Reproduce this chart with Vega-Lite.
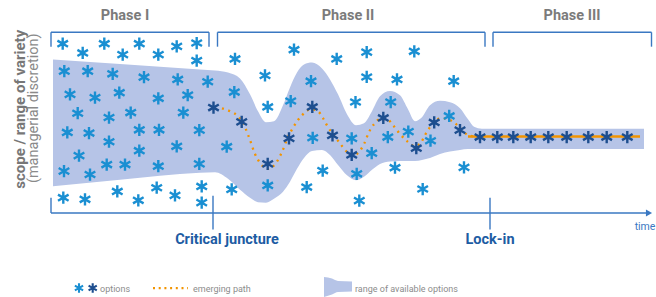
{
  "$schema": "https://vega.github.io/schema/vega-lite/v6.json",
  "width": 656,
  "height": 297,
  "autosize": {"type": "fit", "contains": "padding"},
  "padding": 0,
  "background": "white",
  "config": {"view": {"stroke": null}},
  "datasets": {
    "band": [
      {"t":53,"top":60,"bottom":187.5},{"t":120,"top":64.5,"bottom":181},{"t":200,"top":70,"bottom":174},{"t":215,"top":71,"bottom":173.5},
      {"t":228,"top":73,"bottom":180},{"t":240,"top":79,"bottom":191},{"t":250,"top":95,"bottom":199},{"t":258,"top":112,"bottom":203.5},
      {"t":266,"top":123,"bottom":204},{"t":274,"top":122,"bottom":200},{"t":283,"top":106,"bottom":193},{"t":290,"top":88,"bottom":183},
      {"t":297,"top":73,"bottom":170},{"t":304,"top":65,"bottom":159},{"t":312,"top":63,"bottom":152},{"t":322,"top":69,"bottom":151},
      {"t":330,"top":80,"bottom":156},{"t":338,"top":95,"bottom":166},{"t":347,"top":115,"bottom":176.5},{"t":356,"top":126,"bottom":181.5},
      {"t":364,"top":124,"bottom":178},{"t":372,"top":112,"bottom":171},{"t":380,"top":97,"bottom":165},{"t":390,"top":91.5,"bottom":162.5},
      {"t":400,"top":96,"bottom":162},{"t":408,"top":110,"bottom":162},{"t":415,"top":122,"bottom":162},{"t":422,"top":118,"bottom":161},
      {"t":430,"top":106,"bottom":159},{"t":440,"top":101.5,"bottom":155},{"t":450,"top":103,"bottom":152.5},{"t":460,"top":109,"bottom":151},
      {"t":468,"top":120,"bottom":150},{"t":474,"top":127.5,"bottom":150},{"t":482,"top":129.5,"bottom":150},{"t":644,"top":129.5,"bottom":150}
    ],
    "legendBand": [
      {"t":324,"top":279,"bottom":299},{"t":332,"top":280.5,"bottom":296.5},{"t":338,"top":283,"bottom":294},{"t":352,"top":283.5,"bottom":293.5}
    ],
    "rules": [
      {"t":51,"s":32.5,"t2":209,"s2":32.5},{"t":51,"s":32.5,"t2":51,"s2":47},{"t":209,"s":32.5,"t2":209,"s2":47},
      {"t":217.5,"s":32.5,"t2":485,"s2":32.5},{"t":217.5,"s":32.5,"t2":217.5,"s2":47},{"t":485,"s":32.5,"t2":485,"s2":47},
      {"t":493,"s":32.5,"t2":651.5,"s2":32.5},{"t":493,"s":32.5,"t2":493,"s2":47},{"t":651.5,"s":32.5,"t2":651.5,"s2":47},
      {"t":51,"s":214.5,"t2":646,"s2":214.5},{"t":51,"s":199,"t2":51,"s2":214.5},
      {"t":213,"s":197,"t2":213,"s2":231},{"t":490,"s":199,"t2":490,"s2":231}
    ],
    "path": [
      {"t":222,"s":109},{"t":230,"s":112},{"t":238,"s":117},{"t":245,"s":128},{"t":250,"s":141},{"t":255,"s":155},{"t":260,"s":164},
      {"t":268,"s":170},{"t":276,"s":164},{"t":282,"s":153},{"t":288,"s":138},{"t":294,"s":127},{"t":302,"s":116},{"t":311,"s":110},
      {"t":318,"s":112},{"t":323,"s":119},{"t":328,"s":128},{"t":336,"s":139},{"t":342,"s":147},{"t":347,"s":153},{"t":353,"s":156.5},
      {"t":359,"s":153},{"t":364,"s":145},{"t":369,"s":133},{"t":374,"s":125},{"t":380,"s":120},{"t":387,"s":120},{"t":393,"s":126},
      {"t":400,"s":135},{"t":407,"s":142},{"t":414,"s":147},{"t":420,"s":145},{"t":425,"s":136},{"t":430,"s":128},{"t":436,"s":121},
      {"t":442,"s":119},{"t":448,"s":120},{"t":455,"s":124},{"t":462,"s":131},{"t":468,"s":136},{"t":475,"s":137.5}
    ],
    "lockedPath": [{"t":468,"s":137.5},{"t":640,"s":137.5}],
    "legendPath": [{"t":153,"s":290},{"t":188,"s":290}],
    "options": [
      {"t":62.7,"s":44,"kind":"light"},{"t":82.7,"s":53.3,"kind":"light"},{"t":104.3,"s":44,"kind":"light"},{"t":122.7,"s":55,"kind":"light"},
      {"t":139.3,"s":44,"kind":"light"},{"t":158.3,"s":55,"kind":"light"},{"t":176.7,"s":46.7,"kind":"light"},{"t":196.7,"s":43.3,"kind":"light"},
      {"t":196.7,"s":61,"kind":"light"},
      {"t":64.3,"s":71.7,"kind":"light"},{"t":87.7,"s":71.7,"kind":"light"},{"t":112.7,"s":74.3,"kind":"light"},{"t":144,"s":77.7,"kind":"light"},
      {"t":177.7,"s":80,"kind":"light"},{"t":207.7,"s":82.3,"kind":"light"},
      {"t":70,"s":95,"kind":"light"},{"t":95,"s":98.3,"kind":"light"},{"t":119.3,"s":93.3,"kind":"light"},{"t":158.3,"s":99,"kind":"light"},
      {"t":187.7,"s":95.7,"kind":"light"},
      {"t":77.7,"s":114,"kind":"light"},{"t":109,"s":118.3,"kind":"light"},{"t":130.7,"s":113.3,"kind":"light"},{"t":183.3,"s":113.3,"kind":"light"},
      {"t":67.3,"s":133.3,"kind":"light"},{"t":89,"s":134,"kind":"light"},{"t":139.3,"s":130.7,"kind":"light"},{"t":159,"s":130.7,"kind":"light"},
      {"t":199.3,"s":131,"kind":"light"},
      {"t":109,"s":142.7,"kind":"light"},{"t":139.3,"s":151.7,"kind":"light"},{"t":176.7,"s":147.3,"kind":"light"},{"t":79,"s":156.7,"kind":"light"},
      {"t":64,"s":172.3,"kind":"light"},{"t":90,"s":175.7,"kind":"light"},{"t":106.7,"s":165.7,"kind":"light"},{"t":125,"s":165.7,"kind":"light"},
      {"t":158.3,"s":167.3,"kind":"light"},{"t":199.3,"s":165,"kind":"light"},
      {"t":63.3,"s":199,"kind":"light"},{"t":85,"s":200.7,"kind":"light"},{"t":117.3,"s":192.7,"kind":"light"},{"t":138.3,"s":201.7,"kind":"light"},
      {"t":156.7,"s":189,"kind":"light"},{"t":175,"s":196.7,"kind":"light"},{"t":201.7,"s":187.7,"kind":"light"},{"t":201.7,"s":204,"kind":"light"},
      {"t":235,"s":59.3,"kind":"light"},{"t":294,"s":50,"kind":"light"},{"t":336.7,"s":59.3,"kind":"light"},{"t":366.7,"s":52.5,"kind":"light"},
      {"t":414.3,"s":51.7,"kind":"light"},
      {"t":265,"s":76,"kind":"light"},{"t":311,"s":81.7,"kind":"light"},{"t":366.7,"s":77.5,"kind":"light"},{"t":397,"s":80,"kind":"light"},
      {"t":453.7,"s":81.7,"kind":"light"},
      {"t":234.3,"s":92.7,"kind":"light"},{"t":290.7,"s":101.7,"kind":"light"},{"t":355.5,"s":102.7,"kind":"light"},{"t":390.7,"s":102.7,"kind":"light"},
      {"t":267.7,"s":107.7,"kind":"light"},{"t":449.2,"s":116.7,"kind":"light"},
      {"t":312.7,"s":138.7,"kind":"light"},{"t":351.7,"s":139.3,"kind":"light"},{"t":387.8,"s":138,"kind":"light"},{"t":408.3,"s":132.5,"kind":"light"},
      {"t":430.5,"s":141.7,"kind":"light"},
      {"t":226.7,"s":147.7,"kind":"light"},{"t":371.7,"s":154.2,"kind":"light"},
      {"t":322.7,"s":171.7,"kind":"light"},{"t":356.7,"s":175,"kind":"light"},{"t":395,"s":168.8,"kind":"light"},{"t":464,"s":168.5,"kind":"light"},
      {"t":231.7,"s":190.7,"kind":"light"},{"t":267.7,"s":186.7,"kind":"light"},{"t":306.7,"s":188.3,"kind":"light"},{"t":422.7,"s":190.3,"kind":"light"},
      {"t":359.3,"s":202,"kind":"light"},
      {"t":213.5,"s":108.3,"kind":"dark"},{"t":241.7,"s":122.7,"kind":"dark"},{"t":267.7,"s":165,"kind":"dark"},{"t":289,"s":139.3,"kind":"dark"},
      {"t":312.3,"s":107.7,"kind":"dark"},{"t":332.5,"s":136.3,"kind":"dark"},{"t":351.7,"s":156,"kind":"dark"},{"t":383.3,"s":118.7,"kind":"dark"},
      {"t":416.3,"s":149.2,"kind":"dark"},{"t":434.2,"s":123.3,"kind":"dark"},{"t":460,"s":131,"kind":"dark"},
      {"t":480,"s":138,"kind":"dark"},{"t":497.3,"s":138,"kind":"dark"},{"t":513.3,"s":138,"kind":"dark"},{"t":530.7,"s":138,"kind":"dark"},
      {"t":548.3,"s":138,"kind":"dark"},{"t":566.7,"s":138,"kind":"dark"},{"t":588.3,"s":138,"kind":"dark"},{"t":606.7,"s":138,"kind":"dark"},
      {"t":627.3,"s":138,"kind":"dark"}
    ],
    "legendOptions": [{"t":79,"s":290,"kind":"light"},{"t":92.7,"s":290,"kind":"dark"}],
    "phases": [{"t":125,"s":16,"label":"Phase I"},{"t":348,"s":16,"label":"Phase II"},{"t":572,"s":16,"label":"Phase III"}],
    "events": [{"t":227,"s":241.5,"label":"Critical juncture"},{"t":490,"s":241.5,"label":"Lock-in"}],
    "timeLabel": [{"t":645,"s":229,"label":"time"}],
    "yTitle1": [{"t":20,"s":110,"label":"scope / range of variety"}],
    "yTitle2": [{"t":34,"s":109,"label":"(managerial discretion)"}],
    "legendText": [{"t":100,"s":290.5,"label":"options"},{"t":193,"s":290.5,"label":"emerging path"},{"t":355,"s":290.5,"label":"range of available options"}]
  },
  "layer": [
    {
      "data": {"name": "band"},
      "mark": {"type": "area", "interpolate": "monotone", "color": "#b6c4e7", "opacity": 1},
      "encoding": {
        "x": {"field": "t", "type": "quantitative", "scale": {"domain": [0, 656], "nice": false, "zero": false}, "axis": null},
        "y": {"field": "top", "type": "quantitative", "scale": {"domain": [0, 297], "nice": false, "zero": false, "reverse": true}, "axis": null},
        "y2": {"field": "bottom"}
      }
    },
    {
      "data": {"name": "legendBand"},
      "mark": {"type": "area", "interpolate": "monotone", "color": "#b6c4e7", "opacity": 1},
      "encoding": {
        "x": {"field": "t", "type": "quantitative"},
        "y": {"field": "top", "type": "quantitative"},
        "y2": {"field": "bottom"}
      }
    },
    {
      "data": {"name": "rules"},
      "mark": {"type": "rule", "color": "#3a78c2", "strokeWidth": 1.4},
      "encoding": {
        "x": {"field": "t", "type": "quantitative"},
        "y": {"field": "s", "type": "quantitative"},
        "x2": {"field": "t2"},
        "y2": {"field": "s2"}
      }
    },
    {
      "data": {"values": [{"t": 649, "s": 214.5}]},
      "mark": {"type": "point", "shape": "triangle-right", "filled": true, "color": "#3a78c2", "size": 50, "opacity": 1},
      "encoding": {
        "x": {"field": "t", "type": "quantitative"},
        "y": {"field": "s", "type": "quantitative"}
      }
    },
    {
      "data": {"name": "path"},
      "mark": {"type": "line", "interpolate": "monotone", "color": "#f29400", "strokeWidth": 2.3, "strokeDash": [2, 4.6]},
      "encoding": {
        "x": {"field": "t", "type": "quantitative"},
        "y": {"field": "s", "type": "quantitative"}
      }
    },
    {
      "data": {"name": "lockedPath"},
      "mark": {"type": "line", "color": "#f29400", "strokeWidth": 2.6},
      "encoding": {
        "x": {"field": "t", "type": "quantitative"},
        "y": {"field": "s", "type": "quantitative"}
      }
    },
    {
      "data": {"name": "legendPath"},
      "mark": {"type": "line", "color": "#f29400", "strokeWidth": 2.2, "strokeDash": [2, 3.7]},
      "encoding": {
        "x": {"field": "t", "type": "quantitative"},
        "y": {"field": "s", "type": "quantitative"}
      }
    },
    {
      "data": {"name": "options"},
      "mark": {"type": "point", "shape": "M0,-1L0,1M-0.866,-0.5L0.866,0.5M-0.866,0.5L0.866,-0.5", "filled": false, "strokeWidth": 2.4, "size": 150, "opacity": 1},
      "encoding": {
        "x": {"field": "t", "type": "quantitative"},
        "y": {"field": "s", "type": "quantitative"},
        "color": {"field": "kind", "type": "nominal", "scale": {"domain": ["light", "dark"], "range": ["#1a8fd2", "#1d4e8f"]}, "legend": null}
      }
    },
    {
      "data": {"name": "legendOptions"},
      "mark": {"type": "point", "shape": "M0,-1L0,1M-0.866,-0.5L0.866,0.5M-0.866,0.5L0.866,-0.5", "filled": false, "strokeWidth": 2.1, "size": 90, "opacity": 1},
      "encoding": {
        "x": {"field": "t", "type": "quantitative"},
        "y": {"field": "s", "type": "quantitative"},
        "color": {"field": "kind", "type": "nominal", "legend": null}
      }
    },
    {
      "data": {"name": "phases"},
      "mark": {"type": "text", "font": "Roboto", "fontWeight": "bold", "fontSize": 14.5, "color": "#7b7b7b", "align": "center", "baseline": "middle"},
      "encoding": {
        "x": {"field": "t", "type": "quantitative"},
        "y": {"field": "s", "type": "quantitative"},
        "text": {"field": "label"}
      }
    },
    {
      "data": {"name": "events"},
      "mark": {"type": "text", "font": "Roboto", "fontWeight": "bold", "fontSize": 14.5, "color": "#1d5ca3", "align": "center", "baseline": "middle"},
      "encoding": {
        "x": {"field": "t", "type": "quantitative"},
        "y": {"field": "s", "type": "quantitative"},
        "text": {"field": "label"}
      }
    },
    {
      "data": {"name": "timeLabel"},
      "mark": {"type": "text", "font": "Roboto", "fontSize": 10.5, "color": "#3a78c2", "align": "center", "baseline": "middle"},
      "encoding": {
        "x": {"field": "t", "type": "quantitative"},
        "y": {"field": "s", "type": "quantitative"},
        "text": {"field": "label"}
      }
    },
    {
      "data": {"name": "yTitle1"},
      "mark": {"type": "text", "font": "Roboto", "fontWeight": "bold", "fontSize": 15, "color": "#777777", "align": "center", "baseline": "middle", "angle": 270},
      "encoding": {
        "x": {"field": "t", "type": "quantitative"},
        "y": {"field": "s", "type": "quantitative"},
        "text": {"field": "label"}
      }
    },
    {
      "data": {"name": "yTitle2"},
      "mark": {"type": "text", "font": "Roboto", "fontSize": 14.5, "color": "#8a8a8a", "align": "center", "baseline": "middle", "angle": 270},
      "encoding": {
        "x": {"field": "t", "type": "quantitative"},
        "y": {"field": "s", "type": "quantitative"},
        "text": {"field": "label"}
      }
    },
    {
      "data": {"name": "legendText"},
      "mark": {"type": "text", "font": "Roboto", "fontSize": 9, "color": "#8c8c8c", "align": "left", "baseline": "middle"},
      "encoding": {
        "x": {"field": "t", "type": "quantitative"},
        "y": {"field": "s", "type": "quantitative"},
        "text": {"field": "label"}
      }
    }
  ]
}
